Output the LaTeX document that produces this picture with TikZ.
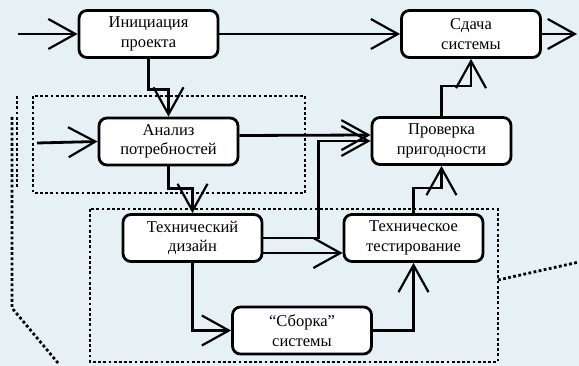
\documentclass[tikz,border=0pt]{standalone}
\usepackage{fontspec}
\setmainfont{Liberation Serif}
\newfontfamily\stagefont[Ligatures=TeX]{Liberation Serif}
\usetikzlibrary{arrows.meta}
\definecolor{bgtint}{RGB}{229,241,244}
\begin{document}
\begin{tikzpicture}[
  x=1pt, y=-1pt,
  stage/.style={draw, line width=2.8pt, rounded corners=8pt, fill=white,
    minimum width=139pt, minimum height=47pt, align=center,
    font=\stagefont\fontsize{16.5}{19.5}\selectfont},
  conn/.style={line width=2.8pt, -{Straight Barb[length=27pt,width=30pt,line width=2.2pt]}},
  group/.style={line width=2.8pt, dash pattern=on 2.8pt off 2.4pt}
]
\fill[bgtint] (0,0) rectangle (579,366);
\useasboundingbox (0,0) rectangle (579,366);
% groups
\draw[group] (33,96) rectangle (305,193);
\draw[group] (90,209) rectangle (498,362);
\draw[group] (17,96) -- (17,188);
\draw[group] (12,117) -- (12,308) -- (58,363);
\draw[group] (498,280) -- (579,262);
% stages
\node[stage] (init) at (148.5,34) {Инициация\\проекта};
\node[stage] (accept) at (471,34) {Сдача\\системы};
\node[stage] (analysis) at (168.5,141.5) {Анализ\\потребностей};
\node[stage] (check) at (441.5,141) {Проверка\\пригодности};
\node[stage] (design) at (192.5,238) {Технический\\дизайн};
\node[stage] (test) at (413.5,238) {Техническое\\тестирование};
\node[stage] (assembly) at (302,330.5) {“Сборка”\\системы};
% free ends
\coordinate (start) at (18,34);
\coordinate (finish) at (577,34);
\coordinate (needs) at (37,143);
% connectors
\draw[conn] (start) -- (init.west);
\draw[conn] (init.east) -- (accept.west);
\draw[conn] (accept.east) -- (finish);
\draw[conn] (init.south) -- ++(0,31) -| (analysis.north);
\draw[conn] (needs) -- (analysis.west);
\draw[conn] ([yshift=6pt]analysis.east) -- ([yshift=6pt]check.west);
\draw[conn] (design.east) -- ++(55,0) |- (check.west);
\draw[conn] ([yshift=-15pt]design.east) -- ([yshift=-15pt]test.west);
\draw[conn] (design.south) |- (assembly.west);
\draw[conn] (analysis.south) -- ++(0,22) -| (design.north);
\draw[conn] (assembly.east) -| (test.south);
\draw[conn] (test.north) -- ++(0,-25) -| (check.south);
\draw[conn] (check.north) -- ++(0,-30) -| (accept.south);
\end{tikzpicture}
\end{document}
